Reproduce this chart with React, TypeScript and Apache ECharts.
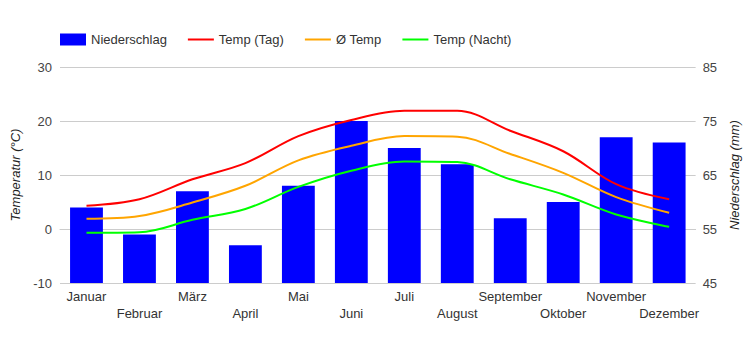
import React, { useEffect, useRef } from "react";
import * as echarts from "echarts";

const months = ["Januar", "Februar", "März", "April", "Mai", "Juni", "Juli", "August", "September", "Oktober", "November", "Dezember"];
const niederschlag = [59, 54, 62, 52, 63, 75, 70, 67, 57, 60, 72, 71];
const tempTag = [4.3, 5.5, 9.2, 12.2, 17.2, 20.2, 21.9, 21.9, 18.2, 14.4, 8.3, 5.5];
const tempMittel = [1.9, 2.4, 4.9, 8.0, 12.7, 15.4, 17.2, 17.1, 13.9, 10.4, 5.9, 3.0];
const tempNacht = [-0.7, -0.6, 1.7, 3.7, 7.8, 10.8, 12.5, 12.4, 9.2, 6.4, 2.7, 0.4];
const tempTicks = { min: -10, max: 30, interval: 10 };
const rainTicks = { min: 45, max: 85, interval: 10 };

const FONT = 'Arial, "Liberation Sans", sans-serif';
const LINE_ICON = "path://M0,0 L0,0 M0,5 L26,5 L26,7 L0,7 Z M26,12 L26,12";

export default function App() {
  const ref = useRef<HTMLDivElement>(null);
  useEffect(() => {
    if (!ref.current) return;
    const chart = echarts.init(ref.current, undefined, { renderer: "svg" });
    chart.setOption({
      animation: false,
      textStyle: { fontFamily: FONT },
      legend: {
        left: 55,
        top: 28,
        itemWidth: 26,
        itemHeight: 12,
        itemGap: 21,
        textStyle: { fontSize: 13, color: "#333", fontFamily: FONT },
        data: [
          { name: "Niederschlag", icon: "rect" },
          { name: "Temp (Tag)", icon: LINE_ICON },
          { name: "Ø Temp", icon: LINE_ICON },
          { name: "Temp (Nacht)", icon: LINE_ICON },
        ],
      },
      grid: { left: 60, right: 46, top: 67, bottom: 67 },
      xAxis: {
        type: "category",
        data: months,
        boundaryGap: true,
        axisTick: { show: false },
        axisLine: { lineStyle: { color: "#ccc" } },
        axisLabel: {
          interval: 0,
          color: "#333",
          fontSize: 13,
          lineHeight: 17,
          margin: 5,
          formatter: (v: string, i: number) => (i % 2 === 1 ? "\n" + v : v + "\n"),
        },
      },
      yAxis: [
        {
          type: "value",
          min: tempTicks.min,
          max: tempTicks.max,
          interval: tempTicks.interval,
          name: "Temperatur (°C)",
          nameLocation: "middle",
          nameRotate: 90,
          nameGap: 38,
          nameTextStyle: { fontStyle: "italic", fontSize: 13, color: "#222", fontFamily: FONT },
          axisLine: { show: false },
          axisTick: { show: false },
          axisLabel: { color: "#444", fontSize: 13, margin: 8 },
          splitLine: { lineStyle: { color: "#ccc" } },
        },
        {
          type: "value",
          min: rainTicks.min,
          max: rainTicks.max,
          interval: rainTicks.interval,
          name: "Niederschlag (mm)",
          nameLocation: "middle",
          nameRotate: 90,
          nameGap: 28,
          nameTextStyle: { fontStyle: "italic", fontSize: 13, color: "#222", fontFamily: FONT },
          axisLine: { show: false },
          axisTick: { show: false },
          axisLabel: { color: "#444", fontSize: 13, margin: 7 },
          splitLine: { show: false },
        },
      ],
      series: [
        {
          name: "Niederschlag",
          type: "bar",
          yAxisIndex: 1,
          data: niederschlag,
          barCategoryGap: "38%",
          itemStyle: { color: "#0000ff" },
        },
        {
          name: "Temp (Tag)",
          type: "line",
          yAxisIndex: 0,
          data: tempTag,
          smooth: 0.35,
          symbol: "none",
          lineStyle: { color: "#ff0000", width: 2 },
          itemStyle: { color: "#ff0000" },
        },
        {
          name: "Ø Temp",
          type: "line",
          yAxisIndex: 0,
          data: tempMittel,
          smooth: 0.35,
          symbol: "none",
          lineStyle: { color: "#ffa500", width: 2 },
          itemStyle: { color: "#ffa500" },
        },
        {
          name: "Temp (Nacht)",
          type: "line",
          yAxisIndex: 0,
          data: tempNacht,
          smooth: 0.35,
          symbol: "none",
          lineStyle: { color: "#00ff00", width: 2 },
          itemStyle: { color: "#00ff00" },
        },
      ],
    });
    return () => chart.dispose();
  }, []);
  return (
    <div
      ref={ref}
      style={{ position: "absolute", left: 0, top: 0, width: 749, height: 350, background: "#fff" }}
    />
  );
}
